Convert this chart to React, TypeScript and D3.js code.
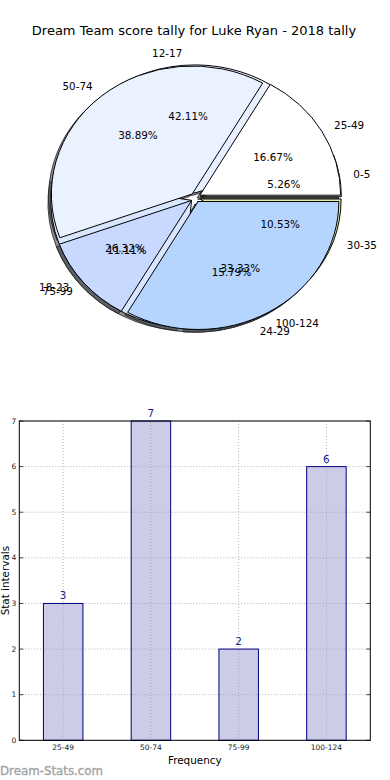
import React from "react";
import * as d3 from "d3";

const TITLE = "Dream Team score tally for Luke Ryan - 2018 tally";

// Pie 1 (lower layer)
const pie1Labels = ["0-5", "12-17", "18-23", "24-29", "30-35"];
const pie1Values = [1, 8, 5, 3, 2];
const pie1Colors = ["#f4f4f4", "#e8f0ff", "#d8e6ff", "#c8dcff", "#e4f2a8"];

// Pie 2 (upper layer) and bar chart
const pie2Labels = ["25-49", "50-74", "75-99", "100-124"];
const pie2Values = [3, 7, 2, 6];
const pie2Colors = ["#ffffff", "#ebf2ff", "#c8d8ff", "#b5d5ff"];

const barCategories = ["25-49", "50-74", "75-99", "100-124"];
const barValues = [3, 7, 2, 6];
const yTicks = [0, 1, 2, 3, 4, 5, 6, 7];

const FONT = "DejaVu Sans, Verdana, sans-serif";

type Wedge = {
  label: string;
  value: number;
  color: string;
  a0: number;
  a1: number;
  mid: number;
  pct: number;
};

function buildWedges(labels: string[], values: number[], colors: string[]): Wedge[] {
  const total = d3.sum(values);
  const arcs = d3
    .pie<number>()
    .sort(null)
    .startAngle(Math.PI / 2)
    .endAngle(Math.PI / 2 - 2 * Math.PI)(values);
  return arcs.map((a, i) => ({
    label: labels[i],
    value: values[i],
    color: colors[i],
    a0: a.startAngle,
    a1: a.endAngle,
    mid: (a.startAngle + a.endAngle) / 2,
    pct: (values[i] / total) * 100,
  }));
}

function shade(c: string) {
  const col = d3.rgb(c);
  return d3.rgb(col.r * 0.3, col.g * 0.3, col.b * 0.3).toString();
}

export default function App() {
  const W = 390;
  const H = 780;

  // Pie geometry
  const cx = 195.5;
  const cy = 197.5;
  const rx = 140.8;
  const ry = 128;
  const explode = 0.036;
  const shadowDx = -2.8;
  const shadowDy = 2.6;

  const arcGen = d3.arc<any>().innerRadius(0).outerRadius(1);

  const w1 = buildWedges(pie1Labels, pie1Values, pie1Colors);
  const w2 = buildWedges(pie2Labels, pie2Values, pie2Colors);
  const allWedges = [...w1, ...w2];

  const off = (w: Wedge) => ({
    x: cx + explode * rx * Math.sin(w.mid),
    y: cy - explode * ry * Math.cos(w.mid),
  });

  const wedgePath = (w: Wedge) =>
    arcGen({ startAngle: w.a0, endAngle: w.a1 } as any) as string;

  // Bar chart geometry
  const left = 19.3;
  const right = 370.3;
  const top = 421;
  const bottom = 740.3;

  const x = d3
    .scaleBand<string>()
    .domain(barCategories)
    .range([left, right])
    .paddingInner(0.55)
    .paddingOuter(0.275);
  const y = d3.scaleLinear().domain([0, 7]).range([bottom, top]);

  const pfs = 10.4;

  return (
    <svg
      width={W}
      height={H}
      style={{ position: "absolute", left: 0, top: 0, background: "#fff" }}
      fontFamily={FONT}
    >
      <rect x={0} y={0} width={W} height={H} fill="#fff" />
      <text x={194} y={34.5} textAnchor="middle" fontSize={13} fill="#000">
        {TITLE}
      </text>

      {/* shadows */}
      {allWedges.map((w, i) => {
        const o = off(w);
        return (
          <path
            key={"s" + i}
            d={wedgePath(w)}
            transform={`translate(${o.x + shadowDx},${o.y + shadowDy}) scale(${rx},${ry})`}
            fill={shade(w.color)}
            fillOpacity={0.6}
            stroke="#222"
            strokeOpacity={0.8}
            strokeWidth={1}
            vectorEffect="non-scaling-stroke"
          />
        );
      })}
      {/* wedges */}
      {allWedges.map((w, i) => {
        const o = off(w);
        return (
          <path
            key={"w" + i}
            d={wedgePath(w)}
            transform={`translate(${o.x},${o.y}) scale(${rx},${ry})`}
            fill={w.color}
            stroke="#000"
            strokeWidth={1}
            vectorEffect="non-scaling-stroke"
          />
        );
      })}
      {/* labels */}
      {allWedges.map((w, i) => {
        const o = off(w);
        const sx = Math.sin(w.mid);
        const sy = -Math.cos(w.mid);
        const lx = o.x + 1.1 * rx * sx;
        const ly = o.y + 1.1 * ry * sy;
        const px = o.x + 0.6 * rx * sx;
        const py = o.y + 0.6 * ry * sy;
        return (
          <g key={"l" + i} fontSize={pfs} fill="#000">
            <text
              x={lx}
              y={ly}
              textAnchor={sx > 0 ? "start" : "end"}
              dominantBaseline="central"
            >
              {w.label}
            </text>
            <text x={px} y={py} textAnchor="middle" dominantBaseline="central">
              {w.pct.toFixed(2) + "%"}
            </text>
          </g>
        );
      })}

      {/* Bar chart */}
      <rect x={left} y={top} width={right - left} height={bottom - top} fill="#fff" />
      {/* grid */}
      {yTicks.map((t) => (
        <line
          key={"gy" + t}
          x1={left}
          x2={right}
          y1={y(t)}
          y2={y(t)}
          stroke="#b0b0b0"
          strokeWidth={1}
          strokeDasharray="1,2"
        />
      ))}
      {barCategories.map((c) => {
        const gx = (x(c) as number) + x.bandwidth() / 2;
        return (
          <line
            key={"gx" + c}
            x1={gx}
            x2={gx}
            y1={top}
            y2={bottom}
            stroke="#b0b0b0"
            strokeWidth={1}
            strokeDasharray="1,2"
          />
        );
      })}
      {/* bars */}
      {barCategories.map((c, i) => (
        <rect
          key={"b" + c}
          x={x(c) as number}
          y={y(barValues[i])}
          width={x.bandwidth()}
          height={bottom - y(barValues[i])}
          fill="#ccccE6"
          stroke="#000080"
          strokeWidth={1}
        />
      ))}
      {/* grid over bars (dotted, faint) */}
      {barCategories.map((c, i) => {
        const gx = (x(c) as number) + x.bandwidth() / 2;
        return (
          <line
            key={"gxo" + c}
            x1={gx}
            x2={gx}
            y1={y(barValues[i]) + 1}
            y2={bottom}
            stroke="#a8a8b8"
            strokeWidth={1}
            strokeDasharray="1,2"
          />
        );
      })}
      {barCategories.map((c, i) =>
        yTicks
          .filter((t) => t > 0 && t < barValues[i])
          .map((t) => (
            <line
              key={"gyo" + c + t}
              x1={(x(c) as number) + 1}
              x2={(x(c) as number) + x.bandwidth() - 1}
              y1={y(t)}
              y2={y(t)}
              stroke="#a8a8b8"
              strokeWidth={1}
              strokeDasharray="1,2"
            />
          ))
      )}
      {/* value labels */}
      {barCategories.map((c, i) => (
        <text
          key={"v" + c}
          x={(x(c) as number) + x.bandwidth() / 2}
          y={y(barValues[i]) - 4}
          textAnchor="middle"
          fontSize={10.4}
          fill="#1a1a8c"
        >
          {barValues[i]}
        </text>
      ))}
      {/* ticks */}
      {yTicks.map((t) => (
        <g key={"t" + t}>
          <line x1={left} x2={left + 4} y1={y(t)} y2={y(t)} stroke="#444" />
          <line x1={right - 4} x2={right} y1={y(t)} y2={y(t)} stroke="#444" />
          <text
            x={left - 3}
            y={y(t)}
            textAnchor="end"
            dominantBaseline="central"
            fontSize={7.5}
            fill="#222"
          >
            {t}
          </text>
        </g>
      ))}
      {barCategories.map((c) => (
        <text
          key={"xt" + c}
          x={(x(c) as number) + x.bandwidth() / 2}
          y={747.5}
          textAnchor="middle"
          dominantBaseline="central"
          fontSize={7.5}
          fill="#222"
        >
          {c}
        </text>
      ))}
      {/* frame */}
      <rect
        x={left}
        y={top}
        width={right - left}
        height={bottom - top}
        fill="none"
        stroke="#000"
        strokeWidth={1}
      />
      <text x={194.8} y={760} textAnchor="middle" dominantBaseline="central" fontSize={10.4} fill="#000">
        Frequency
      </text>
      <text
        transform={`translate(4.5,${(top + bottom) / 2}) rotate(-90)`}
        textAnchor="middle"
        dominantBaseline="central"
        fontSize={10.4}
        fill="#000"
      >
        Stat intervals
      </text>
      <text x={0} y={775} fontSize={11.8} fill="#a3a3a3" stroke="#a3a3a3" strokeWidth={0.35}>
        Dream-Stats.com
      </text>
    </svg>
  );
}
